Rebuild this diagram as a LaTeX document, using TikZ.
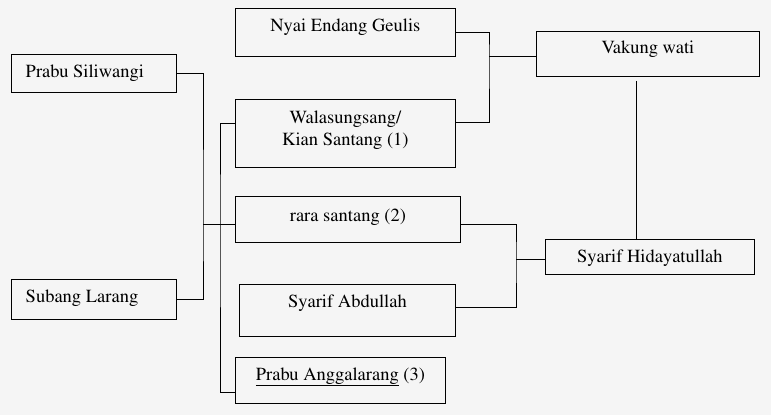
\documentclass[tikz,border=0pt]{standalone}
\usepackage[T1]{fontenc}
\renewcommand{\rmdefault}{ptm}
\usetikzlibrary{calc}

\begin{document}
\begin{tikzpicture}[x=1pt, y=-1pt, line width=0.8pt,
    font=\fontsize{18.5pt}{22pt}\selectfont,
    box/.style={draw, fill=gray!8, anchor=north west, inner sep=0pt},
    txt/.style={anchor=base, yshift=-23pt}]
    \fill[gray!8] (0,0) rectangle (771,415);
    \useasboundingbox (0,0) rectangle (771,415);

    % parents
    \node (sili) [box, minimum width=165pt, minimum height=38pt,
        label={[anchor=base west, xshift=11pt, yshift=-4pt]west:Prabu Siliwangi}] at (11,54) {};
    \node (subang) [box, minimum width=165pt, minimum height=40pt,
        label={[anchor=base west, xshift=11pt, yshift=-3pt]west:Subang Larang}] at (11,279) {};

    % children
    \node (nyai) [box, minimum width=220pt, minimum height=48pt,
        label={[txt]north:Nyai Endang Geulis}] at (235,8) {};
    \node (wala) [box, minimum width=220pt, minimum height=68pt,
        label={[anchor=north, yshift=-8pt, align=center]north:{Walasungsang/\\Kian Santang (1)}}] at (235,99) {};
    \node (rara) [box, minimum width=225pt, minimum height=46pt,
        label={[txt, yshift=-2pt]north:rara santang (2)}] at (235,196) {};
    \node (abdul) [box, minimum width=216pt, minimum height=52pt,
        label={[txt]north:Syarif Abdullah}] at (239,284) {};
    \node (angga) [box, minimum width=210pt, minimum height=46pt,
        label={[txt]north:{\underline{Prabu Anggalarang} (3)}}] at (235,357) {};

    % right side
    \node (vakung) [box, minimum width=223pt, minimum height=45pt,
        label={[txt, yshift=1pt]north:Vakung wati}] at (536,31) {};
    \node (hidayat) [box, minimum width=209pt, minimum height=35pt,
        label={[txt]north:Syarif Hidayatullah}] at (545,239) {};

    \coordinate (jl) at (203,224);
    \coordinate (jk) at (220,224);
    \coordinate (jn) at (489,56);
    \coordinate (jr) at (516,259);

    \draw (sili.east) -| (jl) |- (subang.east);
    \draw (jl) -- (jl -| rara.west);
    \draw ([yshift=10pt]wala.west) -| (jk) |- ([yshift=-12pt]angga.west);
    \draw (nyai.east) -| (jn) |- ([yshift=11pt]wala.east);
    \draw (jn) -- (jn -| vakung.west);
    \draw ([xshift=-12pt, yshift=-4pt]vakung.south) -- ([xshift=-12pt]vakung.south |- hidayat.north);
    \draw ([yshift=-5pt]rara.east) -| (jr) |- ([yshift=3pt]abdul.east);
    \draw (jr) -- (jr -| hidayat.west);
\end{tikzpicture}
\end{document}
